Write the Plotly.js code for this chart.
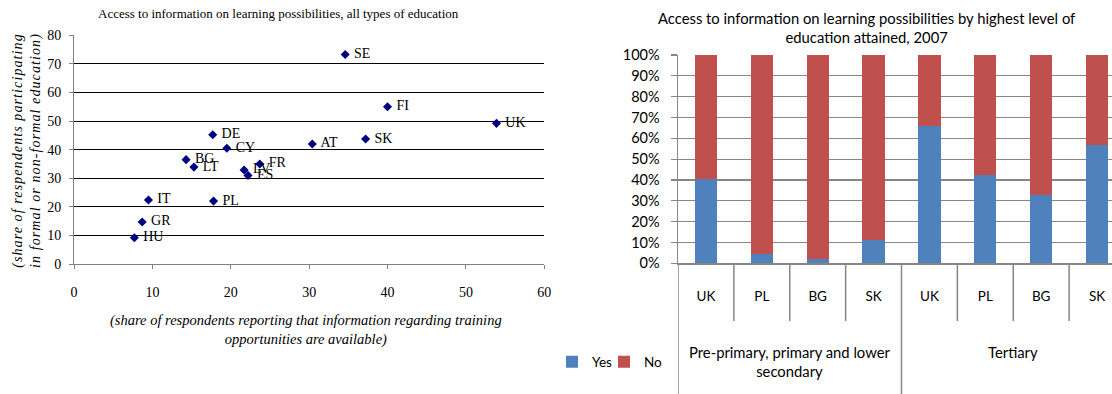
<!DOCTYPE html>
<html>
<head>
<meta charset="utf-8">
<script src="https://cdn.plot.ly/plotly-3.0.1.min.js"></script>
<style>
  html, body { margin: 0; padding: 0; background: #fff; overflow: hidden; }
  #chart { width: 1125px; height: 394px; }
</style>
</head>
<body>
<div id="chart"></div>
<script>
// Scatter: information availability vs participation, by country
const countries = ['SE', 'FI', 'UK', 'DE', 'SK', 'AT', 'CY', 'BG', 'LT', 'FR', 'LV', 'ES', 'IT', 'PL', 'GR', 'HU'];
const infoAvailable = [34.6, 40.0, 53.9, 17.7, 37.2, 30.4, 19.5, 14.3, 15.3, 23.7, 21.7, 22.2, 9.5, 17.8, 8.7, 7.7];
const participation = [73.3, 55.0, 49.2, 45.2, 43.7, 42.0, 40.5, 36.5, 33.9, 35.0, 32.9, 31.0, 22.4, 22.0, 14.7, 9.2];

// Stacked bars: access to information by highest level of education, 2007
const eduLevels = ['Pre-primary, primary and lower<br>secondary', 'Tertiary'];
const barCountries = ['UK', 'PL', 'BG', 'SK', 'UK', 'PL', 'BG', 'SK'];
const barLevel = [0, 0, 0, 0, 1, 1, 1, 1];
const yesShare = [40.3, 4.3, 1.9, 11.0, 66.1, 42.4, 32.6, 56.8];
const noShare = [59.7, 95.7, 98.1, 89.0, 33.9, 57.6, 67.4, 43.2];
const yTicks = [0, 10, 20, 30, 40, 50, 60, 70, 80, 90, 100];

const W = 1125, H = 394;
const px = v => v / W;          // horizontal pixel -> paper
const py = v => 1 - v / H;      // vertical pixel -> paper

const serif = 'Liberation Serif, Times New Roman, serif';
const sans = 'Lato, Carlito, Calibri, sans-serif';
const gray = '#868686';

const barPos = barCountries.map((_, i) => i);

const traces = [
  {
    type: 'scatter', mode: 'markers+text',
    x: infoAvailable, y: participation, text: countries,
    texttemplate: ' %{text}',
    textposition: 'middle right',
    textfont: { family: serif, size: 14, color: '#000' },
    marker: { symbol: 'diamond', size: 7, color: '#000080' },
    xaxis: 'x', yaxis: 'y', showlegend: false, cliponaxis: false,
    hoverinfo: 'text+x+y'
  },
  {
    type: 'bar', name: 'Yes', x: barPos, y: yesShare,
    marker: { color: '#4F81BD' }, xaxis: 'x2', yaxis: 'y2', legend: 'legend'
  },
  {
    type: 'bar', name: 'No', x: barPos, y: noShare,
    marker: { color: '#C0504D' }, xaxis: 'x2', yaxis: 'y2', legend: 'legend2'
  }
];

// Divider lines below the category axis
const shapes = [];
barPos.forEach((p, i) => {
  if (i === 0) return;
  const groupBreak = barLevel[i] !== barLevel[i - 1];
  shapes.push({
    type: 'line', xref: 'x2', yref: 'paper',
    x0: p - 0.5, x1: p - 0.5, y0: py(264), y1: groupBreak ? 0 : py(321),
    line: { color: gray, width: 1.5 }
  });
});
shapes.push({
  type: 'line', xref: 'x2', yref: 'paper',
  x0: -0.5, x1: -0.5, y0: py(264), y1: 0,
  line: { color: gray, width: 1.5 }
});

const spaced = '<span style="letter-spacing:1.1px">';
const annotations = [
  {
    text: 'Access to information on learning possibilities, all types of education',
    xref: 'paper', yref: 'paper', x: px(278), y: py(14),
    xanchor: 'center', yanchor: 'middle', showarrow: false,
    font: { family: serif, size: 13, color: '#000' }
  },
  {
    text: '<i>' + spaced + '(share of respendents participating</span><br>' +
          spaced + 'in formal or non-formal education)</span></i>',
    xref: 'paper', yref: 'paper', x: px(27), y: py(151), textangle: -90,
    xanchor: 'center', yanchor: 'middle', showarrow: false,
    font: { family: serif, size: 14, color: '#000' }
  },
  {
    text: '<i>(share of respondents reporting that information regarding training<br>opportunities are available)</i>',
    xref: 'paper', yref: 'paper', x: px(306), y: py(330),
    xanchor: 'center', yanchor: 'middle', showarrow: false,
    font: { family: serif, size: 14.5, color: '#000' }
  },
  {
    text: 'Access to information on learning possibilities by highest level of<br>education attained, 2007',
    xref: 'paper', yref: 'paper', x: px(867), y: py(27),
    xanchor: 'center', yanchor: 'middle', showarrow: false,
    font: { family: sans, size: 14.8, color: '#000' }
  }
];
eduLevels.forEach((label, g) => {
  const members = barPos.filter((_, i) => barLevel[i] === g);
  const mid = (members[0] + members[members.length - 1]) / 2;
  annotations.push({
    text: label, xref: 'x2', yref: 'paper', x: mid, y: py(352),
    xanchor: 'center', yanchor: 'top', showarrow: false, yshift: 11,
    font: { family: sans, size: 14.8, color: '#000' }
  });
});

const legendStyle = {
  orientation: 'h', traceorder: 'normal',
  y: py(362), xanchor: 'left', yanchor: 'middle',
  font: { family: sans, size: 13.5, color: '#000' },
  bgcolor: 'rgba(0,0,0,0)', itemwidth: 30
};

const layout = {
  width: W, height: H,
  margin: { l: 0, r: 0, t: 0, b: 0 },
  paper_bgcolor: '#fff', plot_bgcolor: 'rgba(0,0,0,0)',
  barmode: 'stack', bargap: 0.6,
  showlegend: true,
  legend: Object.assign({}, legendStyle, { x: px(552) }),
  legend2: Object.assign({}, legendStyle, { x: px(604) }),
  xaxis: {
    domain: [px(74), px(544.3)], anchor: 'y',
    range: [0, 60], dtick: 10, tick0: 0,
    showgrid: false, zeroline: false,
    showline: true, linecolor: '#808080', linewidth: 1,
    ticks: 'outside', ticklen: 4, tickcolor: '#808080',
    ticklabelstandoff: 11,
    tickfont: { family: serif, size: 14, color: '#000' }
  },
  yaxis: {
    domain: [py(264), py(35.3)], anchor: 'x',
    range: [0, 80], dtick: 10, tick0: 0,
    showgrid: true, gridcolor: '#000', gridwidth: 1, zeroline: false,
    showline: true, linecolor: '#808080', linewidth: 1,
    ticks: 'outside', ticklen: 4, tickcolor: '#808080',
    ticklabelstandoff: 5,
    tickfont: { family: serif, size: 14, color: '#000' }
  },
  xaxis2: {
    domain: [px(678), 1], anchor: 'y2',
    range: [-0.5, 7.5], tickvals: barPos, ticktext: barCountries,
    showgrid: false, zeroline: false,
    showline: true, linecolor: gray, linewidth: 1.5,
    ticks: '', ticklabelstandoff: 20,
    tickfont: { family: sans, size: 13.5, color: '#000' }
  },
  yaxis2: {
    domain: [py(263.3), py(55)], anchor: 'x2',
    range: [0, 100], tickvals: yTicks, ticktext: yTicks.map(v => v + '%'),
    showgrid: true, gridcolor: gray, gridwidth: 1.3, zeroline: false,
    showline: true, linecolor: gray, linewidth: 1.5,
    ticks: 'outside', ticklen: 6, tickcolor: gray, tickwidth: 1.3,
    ticklabelstandoff: 8,
    tickfont: { family: sans, size: 14.5, color: '#000' }
  },
  shapes: shapes,
  annotations: annotations
};

Plotly.newPlot('chart', traces, layout, { displayModeBar: false, staticPlot: true });
</script>
</body>
</html>
